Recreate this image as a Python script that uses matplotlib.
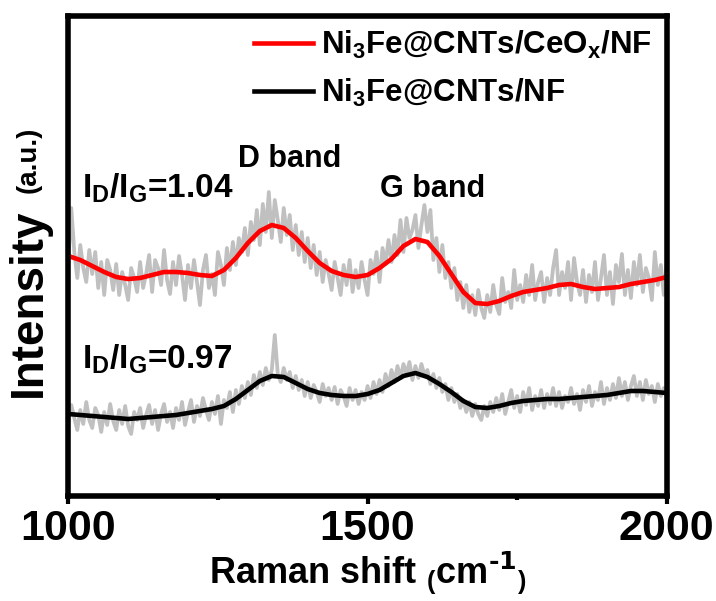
import numpy as np
import matplotlib
matplotlib.use('Agg')
import matplotlib.pyplot as plt

plt.rcParams['font.family'] = ['Liberation Sans', 'DejaVu Sans']
plt.rcParams['font.weight'] = 'bold'
plt.rcParams['mathtext.default'] = 'regular'
plt.rcParams['axes.unicode_minus'] = False

# Raman shift grid for the raw (gray) and smoothed traces
shift_raw = list(range(1000, 2001, 5))
shift_fit = list(range(1000, 2001, 20))

# raw spectrum, Ni3Fe@CNTs/CeOx/NF (arb. units)
raw_ceox = [236, 292, 248, 222, 255, 232, 218, 250, 226, 248, 212, 238,
            205, 240, 230, 210, 236, 205, 228, 215, 200, 232, 222, 208,
            238, 212, 226, 245, 208, 240, 232, 215, 250, 220, 206, 238,
            215, 244, 225, 200, 235, 212, 240, 218, 195, 230, 245, 212,
            226, 205, 248, 235, 215, 252, 230, 258, 235, 262, 248, 272,
            245, 278, 260, 290, 255, 296, 268, 308, 262, 300, 280, 258,
            292, 265, 285, 250, 275, 245, 268, 238, 262, 232, 255, 225,
            248, 218, 240, 226, 210, 238, 222, 205, 235, 215, 240, 208,
            230, 212, 238, 220, 205, 240, 226, 248, 218, 252, 236, 260,
            238, 265, 245, 280, 248, 282, 262, 270, 285, 252, 275, 295,
            268, 290, 240, 262, 228, 255, 222, 238, 212, 232, 200, 218,
            192, 215, 188, 205, 185, 210, 192, 182, 205, 188, 215, 195,
            186, 222, 198, 208, 192, 230, 200, 215, 198, 225, 205, 235,
            200, 218, 228, 198, 222, 205, 232, 250, 205, 228, 212, 238,
            200, 242, 218, 205, 230, 198, 225, 208, 238, 200, 222, 245,
            205, 228, 196, 235, 218, 246, 205, 230, 202, 238, 215, 245,
            208, 232, 222, 200, 248, 215, 235, 205, 238]
# raw spectrum, Ni3Fe@CNTs/NF
raw_nf = [78, 95, 82, 70, 90, 76, 98, 80, 72, 92, 85, 68,
          88, 75, 96, 79, 70, 90, 76, 94, 74, 66, 88, 80,
          92, 72, 85, 95, 76, 90, 70, 86, 96, 78, 88, 72,
          92, 80, 98, 75, 88, 100, 78, 94, 84, 102, 90, 80,
          98, 86, 104, 76, 100, 92, 108, 88, 110, 96, 114, 102,
          118, 105, 125, 112, 128, 115, 132, 120, 130, 165, 126, 118,
          132, 120, 128, 112, 124, 110, 120, 104, 118, 102, 115, 108,
          98, 116, 104, 112, 100, 113, 96, 110, 104, 94, 112, 100,
          110, 96, 108, 100, 114, 102, 118, 106, 120, 108, 126, 114,
          130, 118, 134, 122, 136, 126, 138, 120, 134, 122, 136, 125,
          130, 116, 126, 112, 122, 108, 116, 100, 112, 98, 106, 92,
          100, 88, 98, 84, 96, 86, 80, 94, 84, 98, 88, 102,
          90, 106, 86, 98, 110, 92, 104, 88, 108, 95, 112, 90,
          104, 94, 110, 92, 106, 96, 112, 94, 108, 92, 104, 98,
          112, 96, 106, 90, 110, 98, 114, 94, 108, 100, 118, 96,
          112, 100, 116, 102, 122, 104, 118, 100, 114, 124, 104, 118,
          100, 120, 106, 114, 98, 116, 104, 112, 102]

# smoothed spectra
fit_ceox = [244, 240, 234, 228, 223, 221, 222, 225, 228, 228,
            227, 225, 224, 230, 242, 257, 269, 275, 272, 262,
            249, 237, 229, 225, 223, 225, 232, 241, 254, 261,
            258, 244, 226, 208, 197, 196, 199, 204, 208, 210,
            212, 215, 216, 213, 211, 212, 213, 216, 218, 220, 223]
fit_nf = [86, 85, 84, 83, 82, 81, 82, 83, 84, 85,
          87, 89, 91, 94, 101, 110, 119, 124, 123, 117,
          111, 107, 105, 104, 104, 106, 110, 117, 124, 127,
          123, 116, 108, 99, 93, 92, 94, 97, 99, 100,
          101, 101, 102, 103, 104, 105, 107, 109, 109, 108, 107]

labels = [r'Ni$_3$Fe@CNTs/CeO$_x$/NF', r'Ni$_3$Fe@CNTs/NF']

fig = plt.figure(figsize=(7.16, 6.01), dpi=100)
ax = fig.add_axes([0.0954, 0.1739, 0.8359, 0.7991])

ax.plot(shift_raw, raw_ceox, color='#c0c0c0', lw=2.7)
ax.plot(shift_raw, raw_nf, color='#c0c0c0', lw=2.7)
l1, = ax.plot(shift_fit, fit_ceox, color='#ff0000', lw=3.3, label=labels[0])
l2, = ax.plot(shift_fit, fit_nf, color='#000000', lw=3.3, label=labels[1])

ax.set_xlim(1000, 2000)
ax.set_ylim(3.5, 483.8)
ax.set_xticks([1000, 1500, 2000])
ax.set_xticks([1250, 1750], minor=True)
ax.set_yticks([])
for s in ax.spines.values():
    s.set_linewidth(4)
ax.tick_params(axis='x', which='major', direction='out', length=6, width=3,
               labelsize=31, pad=3)
ax.tick_params(axis='x', which='minor', direction='out', length=3, width=3)

ax.set_xlabel(r'Raman shift $_{(}$cm$^{\text{-1}}$$_{)}$', fontsize=26,
              fontweight='bold', labelpad=0)
fig.text(0.0405, 0.496, 'Intensity', rotation=90, fontsize=33, ha='center', va='center')
fig.text(0.0405, 0.734, '(a.u.)', rotation=90, fontsize=20, ha='center', va='center')

ax.legend(handles=[l1, l2], loc='upper right', bbox_to_anchor=(0.995, 1.0),
          frameon=False, fontsize=22.5, handlelength=1.9, handletextpad=0.25,
          borderaxespad=0.1, borderpad=0.3, labelspacing=0.5)

ax.text(1370, 333, 'D band', fontsize=22, ha='center', va='baseline')
ax.text(1608, 303, 'G band', fontsize=22, ha='center', va='baseline')
ax.text(1023, 302, r'I$_D$/I$_G$=1.04', fontsize=24, ha='left', va='baseline')
ax.text(1023, 131, r'I$_D$/I$_G$=0.97', fontsize=24, ha='left', va='baseline')

fig.savefig('out.png', dpi=100)
